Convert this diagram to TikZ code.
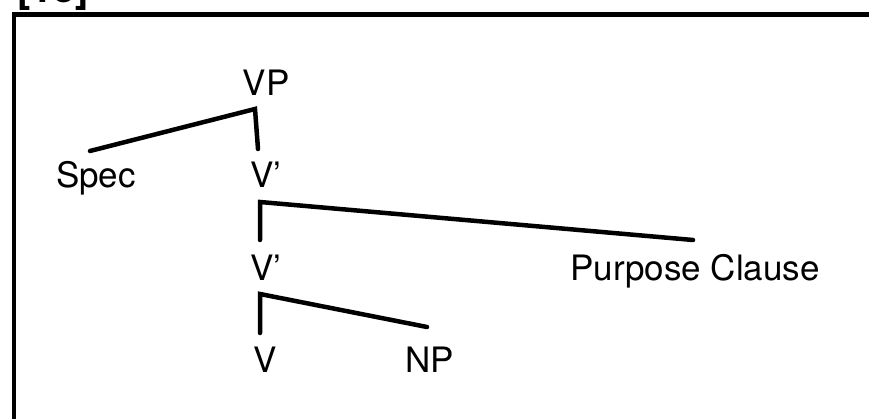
\documentclass[tikz,border=0pt]{standalone}
\usepackage{fontspec}
\setmainfont{TeX Gyre Heros}
\begin{document}
\begin{tikzpicture}[x=1pt,y=-1pt,
  lbl/.style={anchor=base,inner sep=0pt,font=\fontsize{35}{40}\selectfont},
  branch/.style={line width=4.5pt,line cap=round,line join=miter},
  frame/.style={line width=4.5pt}]
\useasboundingbox (0,0) rectangle (869,419);
% clipped label above the frame
\node[anchor=base,inner sep=0pt,font=\fontsize{40}{44}\bfseries\selectfont] (tag) at (53,3) {[15]};
% frame (open to the right and bottom)
\coordinate (fb) at (14,440);
\coordinate (fc) at (14,14.5);
\coordinate (fr) at (890,14.5);
\draw[frame] (fb) -- (fc) -- (fr);
% labels
\node[lbl] (vp) at (266,96) {VP};
\node[lbl] (spec) at (96,188) {Spec};
\node[lbl] (vb1) at (266,188) {V'};
\node[lbl] (vb2) at (266,280) {V'};
\node[lbl] (pc) at (695,280) {Purpose Clause};
\node[lbl] (v) at (265,372) {V};
\node[lbl] (np) at (430,372) {NP};
% joints and branch ends
\coordinate (j1) at (255,109);
\coordinate (s1) at (90,151);
\coordinate (d1) at (258,149);
\coordinate (j2) at (260,202);
\coordinate (d2) at (260,240);
\coordinate (p2) at (693,240);
\coordinate (j3) at (260,294);
\coordinate (d3) at (260,333);
\coordinate (p3) at (427,327);
\draw[branch] (s1) -- (j1) -- (d1);
\draw[branch] (p2) -- (j2) -- (d2);
\draw[branch] (p3) -- (j3) -- (d3);
\end{tikzpicture}
\end{document}
